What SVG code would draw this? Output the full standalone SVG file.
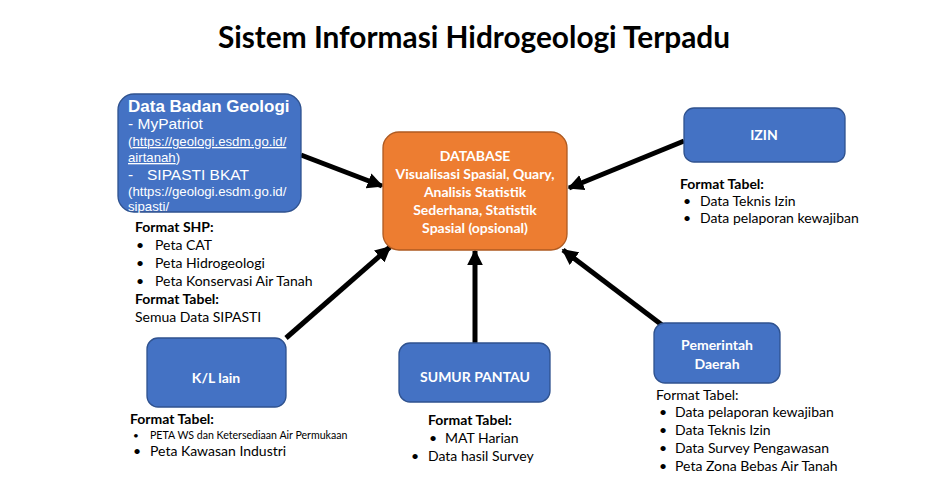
<svg xmlns="http://www.w3.org/2000/svg" width="951" height="485" viewBox="0 0 951 485">
<defs>
<style>
.blue{fill:#4472C4;stroke:#2F528F;stroke-width:1.3}
.orange{fill:#ED7D31;stroke:#AE5A21;stroke-width:1.3}
.c{font-family:Lato,"Open Sans",sans-serif}
.a{font-family:"Liberation Sans",Arial,sans-serif;fill:#fff}
.wb{fill:#fff;font-weight:bold;text-anchor:middle;font-size:14px}
.t{font-size:14px;fill:#000}
.b{font-weight:bold}
.conn{stroke:#000;stroke-width:5;fill:none;marker-end:url(#ah)}
</style>
<marker id="ah" viewBox="0 0 10 10" refX="9" refY="5" markerWidth="3.2" markerHeight="3.2" orient="auto" markerUnits="strokeWidth">
<path d="M0,0 L10,5 L0,10 z" fill="#000"/>
</marker>
</defs>
<rect width="951" height="485" fill="#fff"/>
<text x="474" y="48" class="c b" font-size="29.8" text-anchor="middle" fill="#000">Sistem Informasi Hidrogeologi Terpadu</text>

<g id="connectors">
<line class="conn" x1="301" y1="155" x2="382" y2="186"/>
<line class="conn" x1="286" y1="338" x2="390" y2="247"/>
<line class="conn" x1="475" y1="343" x2="475" y2="251"/>
<line class="conn" x1="662" y1="325" x2="563" y2="250"/>
<line class="conn" x1="684" y1="141" x2="569" y2="188"/>
</g>

<g id="badan-geologi">
<rect class="blue" x="118" y="94" width="183" height="118" rx="16"/>
<text class="a" x="128" y="112" font-size="17" font-weight="bold">Data Badan Geologi</text>
<text class="a" x="128" y="129" font-size="15.5">- MyPatriot</text>
<text class="a" x="128" y="146" font-size="13.2">(<tspan text-decoration="underline">https://geologi.esdm.go.id/</tspan></text>
<text class="a" x="128" y="162" font-size="13.2"><tspan text-decoration="underline">airtanah</tspan>)</text>
<text class="a" x="128" y="180" font-size="15.5">-<tspan x="147">SIPASTI BKAT</tspan></text>
<text class="a" x="128" y="196" font-size="13.2">(https://geologi.esdm.go.id/</text>
<text class="a" x="128" y="211" font-size="13.2">sipasti/</text>
</g>
<g id="badan-geologi-notes" class="c t">
<text x="135" y="232" class="b">Format SHP:</text>
<text x="136" y="250">•</text><text x="155" y="250">Peta CAT</text>
<text x="136" y="268">•</text><text x="155" y="268">Peta Hidrogeologi</text>
<text x="136" y="286">•</text><text x="155" y="286">Peta Konservasi Air Tanah</text>
<text x="135" y="304" class="b">Format Tabel:</text>
<text x="135" y="322">Semua Data SIPASTI</text>
</g>

<g id="database">
<rect class="orange" x="383" y="132" width="184" height="118" rx="16"/>
<g class="c wb">
<text x="475" y="161">DATABASE</text>
<text x="475" y="179">Visualisasi Spasial, Quary,</text>
<text x="475" y="197">Analisis Statistik</text>
<text x="475" y="215">Sederhana, Statistik</text>
<text x="475" y="233">Spasial (opsional)</text>
</g>
</g>

<g id="izin">
<rect class="blue" x="684" y="108" width="161" height="54" rx="10"/>
<text class="c wb" x="764" y="140">IZIN</text>
</g>
<g id="izin-notes" class="c t">
<text x="680" y="189" class="b">Format Tabel:</text>
<text x="683" y="206">•</text><text x="700" y="206">Data Teknis Izin</text>
<text x="683" y="223">•</text><text x="700" y="223">Data pelaporan kewajiban</text>
</g>

<g id="kl-lain">
<rect class="blue" x="147" y="338" width="139" height="69" rx="11"/>
<text class="c wb" x="216" y="383">K/L lain</text>
</g>
<g id="kl-lain-notes" class="c t">
<text x="130" y="424" class="b">Format Tabel:</text>
<text x="133" y="439" font-size="10">•</text><text x="150" y="439" font-size="10.6">PETA WS dan Ketersediaan Air Permukaan</text>
<text x="133" y="456">•</text><text x="150" y="456">Peta Kawasan Industri</text>
</g>

<g id="sumur-pantau">
<rect class="blue" x="399" y="343" width="151" height="59" rx="11"/>
<text class="c wb" x="475" y="382">SUMUR PANTAU</text>
</g>
<g id="sumur-pantau-notes" class="c t">
<text x="428" y="425" class="b">Format Tabel:</text>
<text x="429" y="443">•</text><text x="445" y="443">MAT Harian</text>
<text x="411" y="461">•</text><text x="428" y="461">Data hasil Survey</text>
</g>

<g id="pemda">
<rect class="blue" x="654" y="323" width="126" height="60" rx="11"/>
<text class="c wb" x="717" y="350">Pemerintah</text>
<text class="c wb" x="717" y="369">Daerah</text>
</g>
<g id="pemda-notes" class="c t">
<text x="656" y="400">Format Tabel:</text>
<text x="659" y="417">•</text><text x="675" y="417">Data pelaporan kewajiban</text>
<text x="659" y="435">•</text><text x="675" y="435">Data Teknis Izin</text>
<text x="659" y="453">•</text><text x="675" y="453">Data Survey Pengawasan</text>
<text x="659" y="471">•</text><text x="675" y="471">Peta Zona Bebas Air Tanah</text>
</g>
</svg>
